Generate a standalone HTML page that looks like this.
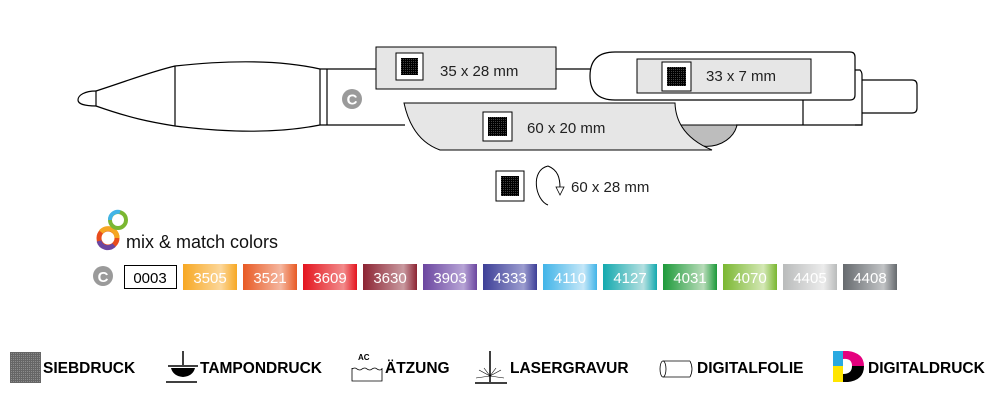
<!DOCTYPE html>
<html><head><meta charset="utf-8"><style>
body{margin:0;width:1000px;height:400px;background:#fff;overflow:hidden;font-family:"Liberation Sans",sans-serif}
</style></head><body>
<svg width="1000" height="400" viewBox="0 0 1000 400" xmlns="http://www.w3.org/2000/svg" style="position:absolute;left:0;top:0">
<defs>
<pattern id="grid" width="2" height="2" patternUnits="userSpaceOnUse"><rect width="2" height="2" fill="#fff"/><rect width="2" height="1.5" fill="#000"/><rect width="1.5" height="2" fill="#000"/></pattern>
<linearGradient id="g1" x1="0" x2="1"><stop offset="0" stop-color="#f7a823"/><stop offset=".7" stop-color="#fcd79a"/><stop offset="1" stop-color="#f7a823"/></linearGradient>
<linearGradient id="g2" x1="0" x2="1"><stop offset="0" stop-color="#e85a24"/><stop offset=".7" stop-color="#f5b7a0"/><stop offset="1" stop-color="#e85a24"/></linearGradient>
<linearGradient id="g3" x1="0" x2="1"><stop offset="0" stop-color="#e4151f"/><stop offset=".75" stop-color="#f28b8b"/><stop offset="1" stop-color="#e4151f"/></linearGradient>
<linearGradient id="g4" x1="0" x2="1"><stop offset="0" stop-color="#8c2433"/><stop offset=".75" stop-color="#c99aa0"/><stop offset="1" stop-color="#8c2433"/></linearGradient>
<linearGradient id="g5" x1="0" x2="1"><stop offset="0" stop-color="#6b46a0"/><stop offset=".75" stop-color="#b7a4d6"/><stop offset="1" stop-color="#6b46a0"/></linearGradient>
<linearGradient id="g6" x1="0" x2="1"><stop offset="0" stop-color="#3d3f97"/><stop offset=".75" stop-color="#9c9dd0"/><stop offset="1" stop-color="#3d3f97"/></linearGradient>
<linearGradient id="g7" x1="0" x2="1"><stop offset="0" stop-color="#41b4e8"/><stop offset=".75" stop-color="#c5e7f8"/><stop offset="1" stop-color="#41b4e8"/></linearGradient>
<linearGradient id="g8" x1="0" x2="1"><stop offset="0" stop-color="#13a9ae"/><stop offset=".75" stop-color="#b5e0e1"/><stop offset="1" stop-color="#13a9ae"/></linearGradient>
<linearGradient id="g9" x1="0" x2="1"><stop offset="0" stop-color="#1d9a3a"/><stop offset=".75" stop-color="#b8dcb9"/><stop offset="1" stop-color="#1d9a3a"/></linearGradient>
<linearGradient id="g10" x1="0" x2="1"><stop offset="0" stop-color="#7ab731"/><stop offset=".75" stop-color="#d4e8b5"/><stop offset="1" stop-color="#7ab731"/></linearGradient>
<linearGradient id="g11" x1="0" x2="1"><stop offset="0" stop-color="#b9bbbb"/><stop offset=".75" stop-color="#ececec"/><stop offset="1" stop-color="#b9bbbb"/></linearGradient>
<linearGradient id="g12" x1="0" x2="1"><stop offset="0" stop-color="#666a6e"/><stop offset=".75" stop-color="#c2c4c6"/><stop offset="1" stop-color="#666a6e"/></linearGradient>
</defs>
<g fill="none" stroke="#000" stroke-width="1.2">
<path d="M96,91 C85,91 78,95 78,100 C78,104 85,106 96,106"/>
<path d="M96,91 L96,106"/>
<path d="M96,91 C130,80 150,72 175,66 C230,60 280,60 320,69"/>
<path d="M96,106 C130,118 150,122 175,126 C230,133 280,133 320,125"/>
<path d="M175,66 L175,126 M320,69 L320,125 M327,69 L327,125"/>
<path d="M320,69 L376,69 M320,125 L405,125"/>
<path d="M556,69 L592,69"/>
<path d="M615,52 L850,52 Q855,52 855,57 L855,95 Q855,100 850,100 L615,100 Q590,100 590,76 Q590,52 615,52 Z" fill="#fff"/>
<path d="M855,70 L860,70 Q862,72 862,75 L862,125 L855,125"/>
<path d="M862,80 L912,80 Q917,80 917,85 L917,108 Q917,113 912,113 L862,113"/>
<path d="M736,125 L862,125 M803,100 L803,125"/>
</g>
<rect x="376" y="47" width="180" height="42" fill="#e6e6e6" stroke="#000" stroke-width="1"/>
<rect x="396" y="53" width="27" height="27" fill="#fff" stroke="#000"/>
<rect x="401" y="58" width="17" height="17" fill="url(#grid)"/>
<text x="440" y="76" font-size="15" fill="#222">35 x 28 mm</text>
<rect x="637" y="59" width="174" height="34" fill="#e6e6e6" stroke="#000"/>
<rect x="662" y="62" width="29" height="29" fill="#fff" stroke="#000"/>
<rect x="667" y="67" width="19" height="19" fill="url(#grid)"/>
<text x="706" y="81" font-size="15" fill="#222">33 x 7 mm</text>
<path d="M676,125 A31,26 0 0 0 737,125 Z" fill="#bdbdbd" stroke="#000"/>
<path d="M404,103 L675,103 Q676,135 712,150 L440,150 Q412,140 404,103 Z" fill="#e6e6e6" stroke="#000"/>
<rect x="483" y="112" width="29" height="29" fill="#fff" stroke="#000"/>
<rect x="488" y="117" width="19" height="19" fill="url(#grid)"/>
<text x="527" y="133" font-size="15" fill="#222">60 x 20 mm</text>
<circle cx="352" cy="99" r="10" fill="#9a9a9a"/>
<text x="352" y="104.5" font-size="15" font-weight="bold" fill="#fff" text-anchor="middle">C</text>
<rect x="496" y="171" width="28" height="30" fill="#fff" stroke="#000"/>
<rect x="501" y="176" width="18" height="20" fill="url(#grid)"/>
<path d="M548,166 C530,170 535,200 548,205 M548,166 C558,170 560,178 560,188" fill="none" stroke="#000"/>
<path d="M556,187 L560,195 L564,187 Z" fill="#fff" stroke="#000" stroke-width=".8"/>
<text x="571" y="192" font-size="15" fill="#222">60 x 28 mm</text>
<circle cx="108" cy="238" r="9" fill="none" stroke="#e84c1c" stroke-width="5"/>
<path d="M101,232 A9,9 0 0 1 117,238" fill="none" stroke="#f5a623" stroke-width="5"/>
<path d="M99,241 A9,9 0 0 0 114,245" fill="none" stroke="#6b46a0" stroke-width="5"/>
<circle cx="118" cy="220" r="8" fill="none" stroke="#7ab731" stroke-width="4"/>
<path d="M110,220 A8,8 0 0 1 120,212" fill="none" stroke="#41b4e8" stroke-width="4"/>
<text x="126" y="248" font-size="18" fill="#111">mix &amp; match colors</text>
<circle cx="103" cy="276" r="10" fill="#9a9a9a"/>
<text x="103" y="282" font-size="15" font-weight="bold" fill="#fff" text-anchor="middle">C</text>
<rect x="124.5" y="265.5" width="52" height="23" fill="#fff" stroke="#000"/>
<text x="150" y="283" font-size="15" fill="#000" text-anchor="middle">0003</text>
<g font-size="15" fill="#fff" text-anchor="middle">
<rect x="183" y="264" width="54" height="26" fill="url(#g1)"/><text x="210" y="283">3505</text>
<rect x="243" y="264" width="54" height="26" fill="url(#g2)"/><text x="270" y="283">3521</text>
<rect x="303" y="264" width="54" height="26" fill="url(#g3)"/><text x="330" y="283">3609</text>
<rect x="363" y="264" width="54" height="26" fill="url(#g4)"/><text x="390" y="283">3630</text>
<rect x="423" y="264" width="54" height="26" fill="url(#g5)"/><text x="450" y="283">3903</text>
<rect x="483" y="264" width="54" height="26" fill="url(#g6)"/><text x="510" y="283">4333</text>
<rect x="543" y="264" width="54" height="26" fill="url(#g7)"/><text x="570" y="283">4110</text>
<rect x="603" y="264" width="54" height="26" fill="url(#g8)"/><text x="630" y="283">4127</text>
<rect x="663" y="264" width="54" height="26" fill="url(#g9)"/><text x="690" y="283">4031</text>
<rect x="723" y="264" width="54" height="26" fill="url(#g10)"/><text x="750" y="283">4070</text>
<rect x="783" y="264" width="54" height="26" fill="url(#g11)"/><text x="810" y="283">4405</text>
<rect x="843" y="264" width="54" height="26" fill="url(#g12)"/><text x="870" y="283">4408</text>
</g>
<g font-size="15.5" font-weight="bold" fill="#000">
<rect x="10" y="352" width="31" height="31" fill="url(#grid)" opacity=".6"/>
<text x="43" y="373">SIEBDRUCK</text>
<path d="M183,351 L183,365 M168,366 L198,366" stroke="#000" stroke-width="1.5"/>
<path d="M171,368 L195,368 Q193,376 183,377 Q173,376 171,368 Z" fill="#000"/>
<path d="M166,382 L197,382" stroke="#000" stroke-width="1.5"/>
<text x="200" y="373">TAMPONDRUCK</text>
<text x="358" y="360" font-size="8">AC</text>
<path d="M352,368 L352,381 L382,381 L382,368 M352,369 q3,-2 5,0 q3,2 5,0 q3,-2 5,0 q3,2 5,0 q3,-2 5,0 q3,2 5,0" fill="none" stroke="#000" stroke-width=".8"/>
<text x="385" y="373">ÄTZUNG</text>
<path d="M490,351 L490,382 M475,383 L507,383" stroke="#000" stroke-width="1.5"/>
<path d="M490,376 L479,370 M490,376 L501,370 M490,376 L476,378 M490,376 L504,378 M490,376 L484,368 M490,376 L496,368" stroke="#000" stroke-width=".6"/>
<text x="510" y="373">LASERGRAVUR</text>
<path d="M663,361 L690,361 M663,377 L690,377 M690,361 Q694,369 690,377" fill="none" stroke="#000" stroke-width=".8"/>
<ellipse cx="663" cy="369" rx="3" ry="8" fill="none" stroke="#000" stroke-width=".8"/>
<text x="697" y="373">DIGITALFOLIE</text>
<rect x="833" y="351" width="10" height="15" fill="#29a9e1"/>
<rect x="833" y="366" width="10" height="16" fill="#ffe500"/>
<path d="M843,351 L848,351 Q864,353 864,366 L852,366 Q852,358 843,359 Z" fill="#e5007e"/>
<path d="M864,366 Q864,380 848,382 L843,382 L843,374 Q852,374 852,366 Z" fill="#000"/>
<text x="868" y="373">DIGITALDRUCK</text>
</g>
</svg>
</body></html>
